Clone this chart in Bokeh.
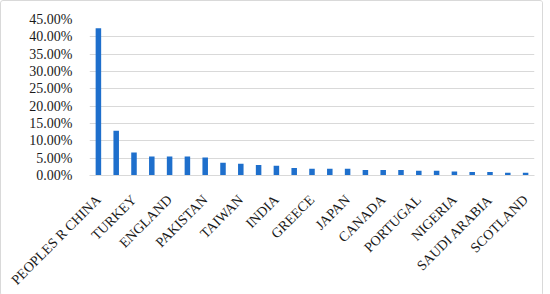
from bokeh.plotting import figure
from bokeh.models import ColumnDataSource, Range1d, FixedTicker, NumeralTickFormatter
from bokeh.embed import file_html
from bokeh.resources import INLINE
import math

countries = ["PEOPLES R CHINA", "USA", "TURKEY", "IRAN", "ENGLAND", "SOUTH KOREA",
             "PAKISTAN", "AUSTRALIA", "TAIWAN", "MALAYSIA", "INDIA", "SPAIN",
             "GREECE", "ITALY", "JAPAN", "GERMANY", "CANADA", "FRANCE",
             "PORTUGAL", "EGYPT", "NIGERIA", "BRAZIL", "SAUDI ARABIA",
             "NETHERLANDS", "SCOTLAND"]
shares = [42.5, 12.9, 6.63, 5.48, 5.48, 5.48, 5.19, 3.66, 3.37, 3.0, 2.8, 2.13,
          1.93, 1.93, 1.93, 1.56, 1.56, 1.56, 1.36, 1.36, 1.15, 0.98, 0.98,
          0.78, 0.78]
y_ticks = [0, 5, 10, 15, 20, 25, 30, 35, 40, 45]

FONT = "'Liberation Serif', 'DejaVu Serif', serif"

xs = list(range(len(countries)))
src = ColumnDataSource(dict(x=xs, v=[s / 100 for s in shares], name=countries))

p = figure(output_backend="svg", toolbar_location=None,
           frame_width=445, frame_height=156,
           min_border_left=88, min_border_right=8, min_border_top=18, min_border_bottom=111,
           x_range=Range1d(-0.5, len(countries) - 0.5), y_range=Range1d(0, 0.45))
p.styles = {"border": "1px solid #d9d9d9", "border-radius": "3px"}
p.outline_line_color = None
p.background_fill_color = "white"
p.border_fill_color = "white"

p.vbar(x="x", top="v", width=0.31, source=src, fill_color="#1E6FCC", line_color=None)

p.xgrid.grid_line_color = None
p.ygrid.grid_line_color = "#d9d9d9"
p.ygrid.grid_line_width = 1
p.yaxis.ticker = FixedTicker(ticks=[t / 100 for t in y_ticks])
p.yaxis.formatter = NumeralTickFormatter(format="0.00%")
p.yaxis.axis_line_color = None
p.yaxis.major_tick_line_color = None
p.yaxis.minor_tick_line_color = None
p.yaxis.major_label_standoff = 11
p.yaxis.major_label_text_font = FONT
p.yaxis.major_label_text_font_size = "14px"
p.yaxis.major_label_text_color = "#1a1a1a"

shown = xs[::2]
p.xaxis.ticker = FixedTicker(ticks=shown)
p.xaxis.major_label_overrides = {i: countries[i] for i in shown}
p.xaxis.major_label_orientation = math.pi / 4
p.xaxis.axis_line_color = "#d9d9d9"
p.xaxis.major_tick_line_color = None
p.xaxis.minor_tick_line_color = None
p.xaxis.major_label_standoff = 16
p.xaxis.major_label_text_font = FONT
p.xaxis.major_label_text_font_size = "14px"
p.xaxis.major_label_text_color = "#1a1a1a"

open("out.html", "w").write(file_html(p, INLINE))
